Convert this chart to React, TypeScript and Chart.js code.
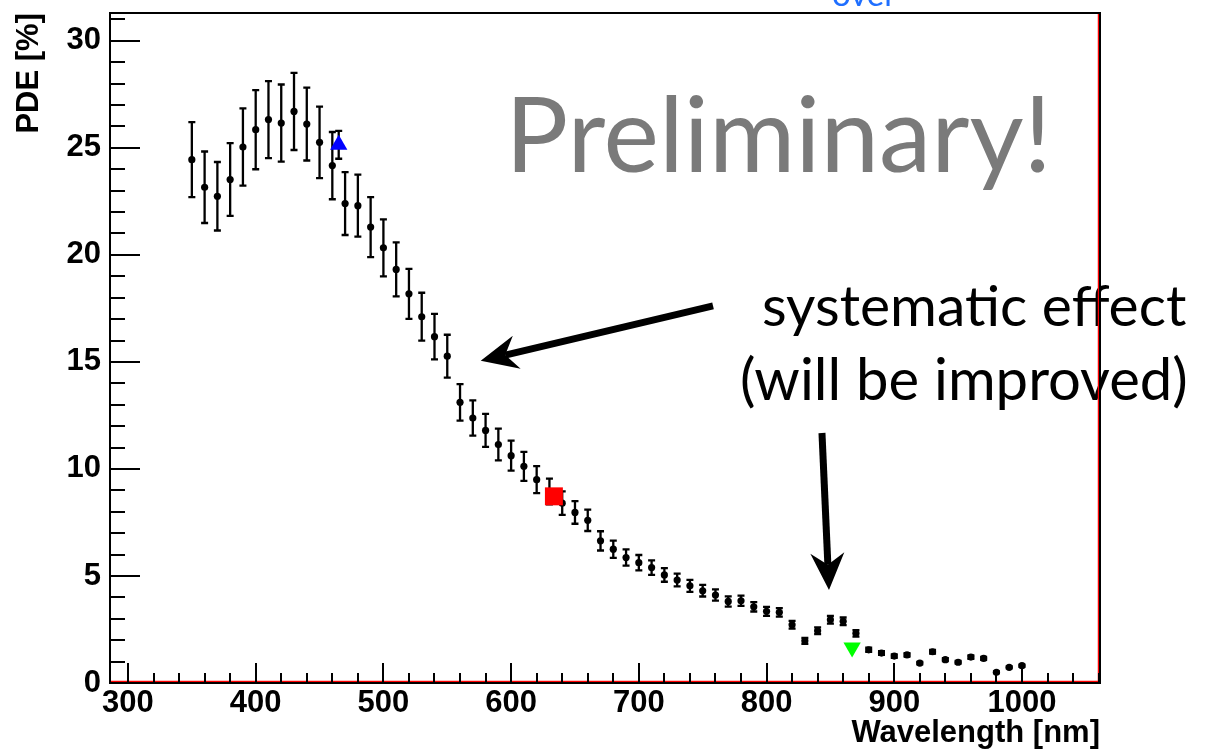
import React, { useEffect, useRef } from "react";
import { Chart, registerables } from "chart.js";

Chart.register(...registerables);

// ---- data ----
const wavelengths = [
  350, 360, 370, 380, 390, 400, 410, 420, 430, 440, 450, 460, 470, 480, 490,
  500, 510, 520, 530, 540, 550, 560, 570, 580, 590, 600, 610, 620, 630, 640,
  650, 660, 670, 680, 690, 700, 710, 720, 730, 740, 750, 760, 770, 780, 790,
  800, 810, 820, 830, 840, 850, 860, 870, 880, 890, 900, 910, 920, 930, 940,
  950, 960, 970, 980, 990, 1000,
];
const pde = [
  24.45, 23.16, 22.74, 23.52, 25.04, 25.85, 26.32, 26.16, 26.7, 26.11, 25.26, 24.17, 22.4, 22.3, 21.3,
  20.33, 19.32, 18.18, 17.11, 16.18, 15.27, 13.11, 12.38, 11.8, 11.14, 10.62, 10.12, 9.5, 8.95, 8.4,
  7.97, 7.6, 6.64, 6.25, 5.86, 5.62, 5.39, 5.05, 4.81, 4.54, 4.31, 4.11, 3.81, 3.84, 3.56,
  3.35, 3.3, 2.72, 1.97, 2.44, 2.95, 2.88, 2.32, 1.55, 1.4, 1.26, 1.31, 0.93, 1.46, 1.09,
  0.97, 1.21, 1.15, 0.5, 0.73, 0.81,
];
const pdeErr = [
  1.75, 1.67, 1.6, 1.7, 1.8, 1.85, 1.8, 1.8, 1.8, 1.7, 1.67, 1.57, 1.47, 1.45, 1.4,
  1.33, 1.26, 1.17, 1.12, 1.06, 1.0, 0.85, 0.82, 0.77, 0.74, 0.7, 0.68, 0.63, 0.6, 0.55,
  0.53, 0.5, 0.45, 0.4, 0.38, 0.36, 0.34, 0.32, 0.3, 0.28, 0.27, 0.26, 0.24, 0.24, 0.22,
  0.21, 0.2, 0.18, 0.14, 0.16, 0.18, 0.18, 0.15, 0.1, 0.09, 0.08, 0.08, 0.06, 0.09, 0.07,
  0.06, 0.08, 0.07, 0.04, 0.05, 0.05,
];

// reference points (other measurements)
const bluePoint = { x: 465, y: 25.14, err: 0.65 };
const redPoint = { x: 633.5, y: 8.72 };
const greenPoint = { x: 867, y: 1.66 };

// axis settings
const xMin = 286.7;
const xMax = 1061.1;
const yMin = 0;
const yMax = 31.3;
const xMajorStep = 100;
const xMinorStep = 20;
const yMajorStep = 5;
const yMinorStep = 1;

// annotation anchors (data units)
const arrows = [
  { from: [758.1, 17.62], to: [576.2, 15.05] },
  { from: [843.4, 11.68], to: [848.9, 4.35] },
];
const texts = [
  { text: "Preliminary!", at: [595.5, 23.85], size: 105, color: "#7a7a7a" },
  { text: "systematic effect", at: [796.4, 16.67], size: 57, color: "#000000" },
  { text: "(will be improved)", at: [779.2, 13.22], size: 58, color: "#000000" },
];
const topText = { text: "over", atX: 851.2, color: "#1f6fff" };

const AXIS_FONT = { family: "'Liberation Sans', Arial, Helvetica, sans-serif", size: 31, weight: "bold" as const };

function drawArrow(ctx: CanvasRenderingContext2D, x0: number, y0: number, x1: number, y1: number) {
  const dx = x1 - x0;
  const dy = y1 - y0;
  const len = Math.hypot(dx, dy);
  const ux = dx / len;
  const uy = dy / len;
  const nx = -uy;
  const ny = ux;
  const L = 37;
  const W = 17;
  const notch = 0.68 * L;
  ctx.save();
  ctx.strokeStyle = "#000";
  ctx.fillStyle = "#000";
  ctx.lineWidth = 7;
  ctx.lineCap = "butt";
  ctx.beginPath();
  ctx.moveTo(x0, y0);
  ctx.lineTo(x1 - ux * notch, y1 - uy * notch);
  ctx.stroke();
  ctx.beginPath();
  ctx.moveTo(x1, y1);
  ctx.lineTo(x1 - ux * L + nx * W, y1 - uy * L + ny * W);
  ctx.lineTo(x1 - ux * notch, y1 - uy * notch);
  ctx.lineTo(x1 - ux * L - nx * W, y1 - uy * L - ny * W);
  ctx.closePath();
  ctx.fill();
  ctx.restore();
}

function drawErrorBar(ctx: CanvasRenderingContext2D, x: any, y: any, w: number, v: number, e: number) {
  const cap = 3.5;
  const px = x.getPixelForValue(w);
  const y1 = y.getPixelForValue(v - e);
  const y2 = y.getPixelForValue(v + e);
  ctx.beginPath();
  ctx.moveTo(px, y1);
  ctx.lineTo(px, y2);
  ctx.moveTo(px - cap, y1);
  ctx.lineTo(px + cap, y1);
  ctx.moveTo(px - cap, y2);
  ctx.lineTo(px + cap, y2);
  ctx.stroke();
}

const rootDecor = {
  id: "rootDecor",
  beforeDatasetsDraw(chart: any) {
    const { ctx } = chart;
    const x = chart.scales.x;
    const y = chart.scales.y;
    ctx.save();
    ctx.strokeStyle = "#000";
    ctx.lineWidth = 2.3;
    wavelengths.forEach((w, i) => drawErrorBar(ctx, x, y, w, pde[i], pdeErr[i]));
    drawErrorBar(ctx, x, y, bluePoint.x, bluePoint.y, bluePoint.err);
    ctx.restore();
  },
  afterDatasetsDraw(chart: any) {
    const { ctx, chartArea } = chart;
    const x = chart.scales.x;
    const y = chart.scales.y;
    const { left, right, top, bottom } = chartArea;

    // annotation texts
    ctx.save();
    ctx.textBaseline = "alphabetic";
    ctx.textAlign = "left";
    texts.forEach((t) => {
      ctx.font = `${t.size}px Lato, 'Open Sans', sans-serif`;
      ctx.fillStyle = t.color;
      ctx.fillText(t.text, x.getPixelForValue(t.at[0]), y.getPixelForValue(t.at[1]));
    });
    ctx.font = "33px Lato, sans-serif";
    ctx.fillStyle = topText.color;
    ctx.fillText(topText.text, x.getPixelForValue(topText.atX), 6);
    ctx.restore();

    arrows.forEach((a) => {
      drawArrow(
        ctx,
        x.getPixelForValue(a.from[0]),
        y.getPixelForValue(a.from[1]),
        x.getPixelForValue(a.to[0]),
        y.getPixelForValue(a.to[1])
      );
    });

    ctx.save();
    // red histogram outline
    ctx.strokeStyle = "#ff0000";
    ctx.lineWidth = 1.5;
    ctx.beginPath();
    ctx.moveTo(left, bottom - 1.5);
    ctx.lineTo(right - 1.5, bottom - 1.5);
    ctx.lineTo(right - 1.5, top);
    ctx.stroke();

    // frame
    ctx.strokeStyle = "#000";
    ctx.lineWidth = 2;
    ctx.strokeRect(left - 1, top, right - left + 1, bottom - top);

    // ticks
    ctx.lineWidth = 2;
    ctx.beginPath();
    const xStart = Math.ceil(xMin / xMinorStep) * xMinorStep;
    for (let v = xStart; v <= xMax; v += xMinorStep) {
      const px = Math.round(x.getPixelForValue(v));
      const major = v % xMajorStep === 0;
      ctx.moveTo(px, bottom);
      ctx.lineTo(px, bottom - (major ? 20 : 10));
    }
    for (let v = Math.ceil(yMin); v <= yMax; v += yMinorStep) {
      const py = Math.round(y.getPixelForValue(v));
      const major = v % yMajorStep === 0;
      ctx.moveTo(left, py);
      ctx.lineTo(left + (major ? 29 : 14), py);
    }
    ctx.stroke();
    ctx.restore();
  },
};

export default function App() {
  const canvasRef = useRef<HTMLCanvasElement | null>(null);

  useEffect(() => {
    if (!canvasRef.current) return;
    const mainData = wavelengths.map((w, i) => ({ x: w, y: pde[i] }));
    const chart = new Chart(canvasRef.current, {
      type: "scatter",
      data: {
        datasets: [
          {
            label: "PDE",
            data: mainData,
            pointRadius: 3.6,
            pointBackgroundColor: "#000",
            pointBorderWidth: 0,
            showLine: false,
            order: 1,
          },
          {
            label: "blue",
            data: [{ x: bluePoint.x, y: bluePoint.y }],
            pointStyle: "triangle",
            pointRadius: 10,
            pointBackgroundColor: "#0000ff",
            pointBorderColor: "#0000ff",
            pointBorderWidth: 0,
            order: 0,
          },
          {
            label: "red",
            data: [redPoint],
            pointStyle: "rect",
            pointRadius: 12.7,
            pointBackgroundColor: "#ff0000",
            pointBorderColor: "#ff0000",
            pointBorderWidth: 0,
            order: 0,
          },
          {
            label: "green",
            data: [greenPoint],
            pointStyle: "triangle",
            rotation: 180,
            pointRadius: 10,
            pointBackgroundColor: "#00ff00",
            pointBorderColor: "#00ff00",
            pointBorderWidth: 0,
            order: 0,
          } as any,
        ],
      },
      options: {
        animation: false,
        responsive: false,
        devicePixelRatio: 1,
        layout: { padding: { top: 13, right: 113, left: 0, bottom: 0 } },
        plugins: { legend: { display: false }, tooltip: { enabled: false } },
        scales: {
          x: {
            type: "linear",
            min: xMin,
            max: xMax,
            grid: { display: false, drawTicks: false },
            border: { display: false },
            ticks: {
              stepSize: xMajorStep,
              includeBounds: false,
              padding: 2,
              color: "#000",
              font: AXIS_FONT,
              maxRotation: 0,
              autoSkip: false,
              callback: (v: any) => String(v),
            },
            title: {
              display: true,
              text: "Wavelength [nm]",
              align: "end",
              color: "#000",
              font: AXIS_FONT,
              padding: { top: 0, bottom: -2 },
            },
            afterFit: (s: any) => {
              s.height = 67;
              s.paddingLeft = 0;
              s.paddingRight = 0;
            },
          },
          y: {
            type: "linear",
            min: yMin,
            max: yMax,
            grid: { display: false, drawTicks: false },
            border: { display: false },
            ticks: {
              stepSize: yMajorStep,
              includeBounds: false,
              padding: 10,
              color: "#000",
              font: AXIS_FONT,
              callback: (v: any) => String(v),
            },
            title: {
              display: true,
              text: "PDE [%]",
              align: "end",
              color: "#000",
              font: AXIS_FONT,
              padding: { top: 11, bottom: 0 },
            },
            afterFit: (s: any) => {
              s.width = 111;
              s.paddingTop = 0;
              s.paddingBottom = 0;
            },
          },
        },
      },
      plugins: [rootDecor],
    } as any);
    return () => chart.destroy();
  }, []);

  return (
    <div style={{ position: "absolute", left: 0, top: 0, width: 1213, height: 750, background: "#fff" }}>
      <canvas ref={canvasRef} width={1213} height={750} style={{ display: "block" }} />
    </div>
  );
}
